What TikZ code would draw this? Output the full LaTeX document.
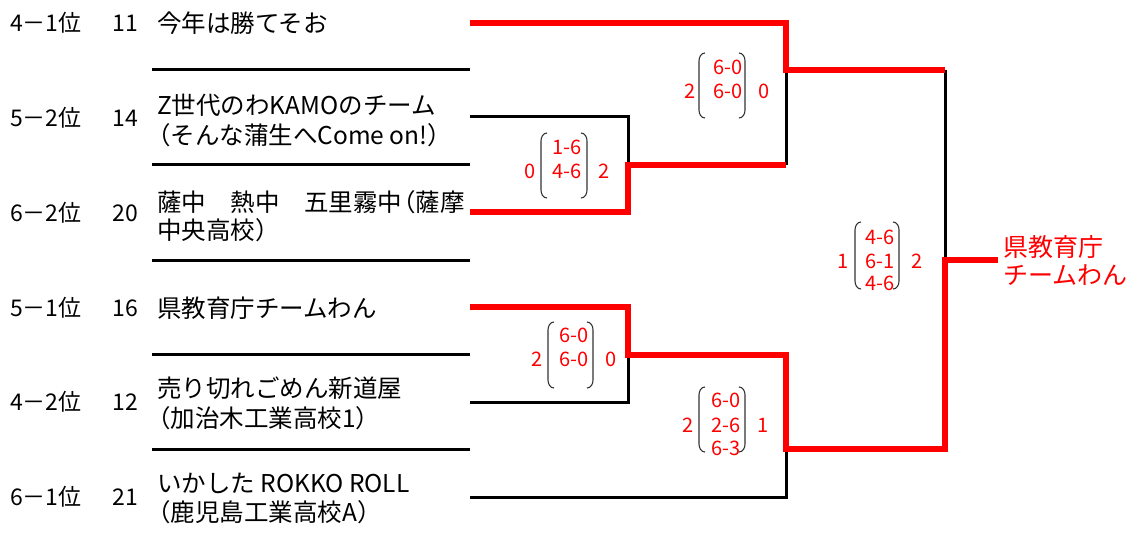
\documentclass[tikz,border=0pt]{standalone}
\usepackage{fontspec}
\setmainfont{Noto Sans CJK JP}
\definecolor{winred}{HTML}{FF0000}
\definecolor{pargray}{HTML}{333333}
\tikzset{
  sepline/.style={draw=black, line width=3pt},
  loseline/.style={draw=black, line width=3pt, line join=miter},
  winline/.style={draw=winred, line width=6pt, line join=miter},
  rank/.style={anchor=base west, inner sep=0pt, yshift=-8.7pt, font=\fontsize{23}{28}\selectfont},
  seed/.style={anchor=base east, inner sep=0pt, yshift=-8.7pt, font=\fontsize{23}{28}\selectfont},
  team/.style={anchor=base west, inner sep=0pt, yshift=-9.3pt, font=\fontsize{24.5}{30}\selectfont},
  winner/.style={anchor=base west, inner sep=0pt, yshift=-9.5pt, text=winred, font=\fontsize{25}{30}\selectfont},
  score/.style={anchor=base, inner sep=0pt, yshift=-7.4pt, text=winred, font=\fontsize{20}{24}\selectfont},
  paren/.style={draw=pargray, line width=1.1pt},
}
\newcommand{\lparen}[3]{% x, top, bottom
  \draw[paren] (#1+6,#2) to[out=180,in=90] (#1,#2+8) -- (#1,#3-8) to[out=-90,in=180] (#1+6,#3);}
\newcommand{\rparen}[3]{%
  \draw[paren] (#1-6,#2) to[out=0,in=90] (#1,#2+8) -- (#1,#3-8) to[out=-90,in=0] (#1-6,#3);}
\newcommand{\opn}{\kern-0.45em（}
\begin{document}
\begin{tikzpicture}[x=1pt,y=-1pt]
\useasboundingbox (0,0) rectangle (1139,540);

% ranks and seeds
\node[rank] (r1) at (10,23) {4－1位};
\node[rank] (r2) at (10,118) {5－2位};
\node[rank] (r3) at (10,213) {6－2位};
\node[rank] (r4) at (10,308) {5－1位};
\node[rank] (r5) at (10,402) {4－2位};
\node[rank] (r6) at (10,497) {6－1位};
\node[seed] (s1) at (138,23) {11};
\node[seed] (s2) at (138,118) {14};
\node[seed] (s3) at (138,213) {20};
\node[seed] (s4) at (138,308) {16};
\node[seed] (s5) at (138,402) {12};
\node[seed] (s6) at (138,497) {21};

% team names
\node[team] (n1) at (157,23) {今年は勝てそお};
\node[team] (n2a) at (157,105) {Z世代のわKAMOのチーム};
\node[team] (n2b) at (157,135) {\opn そんな蒲生へCome on!）};
\node[team] (n3a) at (157,202) {薩中　熱中　五里霧中\opn 薩摩};
\node[team] (n3b) at (157,230) {中央高校）};
\node[team] (n4) at (157,308) {県教育庁チームわん};
\node[team] (n5a) at (157,388) {売り切れごめん新道屋};
\node[team] (n5b) at (157,418) {\opn 加治木工業高校1）};
\node[team] (n6a) at (157,483) {いかした ROKKO ROLL};
\node[team] (n6b) at (157,512) {\opn 鹿児島工業高校A）};

% separators
\foreach \yy in {70,165,260,354,449}
  \draw[sepline] (152,\yy) -- (470,\yy);

% bracket coordinates
\coordinate (e1) at (470,23);
\coordinate (e2) at (470,117);
\coordinate (e3) at (470,212);
\coordinate (e4) at (470,307);
\coordinate (e5) at (470,402);
\coordinate (e6) at (470,497);
\coordinate (mA) at (628,165);
\coordinate (mB) at (628,355);
\coordinate (mT) at (786,70);
\coordinate (mL) at (786,449);
\coordinate (fT) at (945,70);
\coordinate (fL) at (945,449);
\coordinate (fm) at (945,260);
\coordinate (champ) at (998,260);

% losing lines
\draw[loseline] (e2) -| (mA);
\draw[loseline] (e5) -| (mB);
\draw[loseline] (e6) -| (mL);
\draw[loseline] (mT) -- (786,165);
\draw[loseline] (fT) -- (fm);

% winning lines
\draw[winline] (e1) -| (mT) -- (fT);
\draw[winline] (e3) -| (mA) -- (786,165);
\draw[winline] (e4) -| (mB) -- (786,355) -- (mL) -- (fL) -- (fm) -- (champ);

% champion
\node[winner] (w1) at (1003,247) {県教育庁};
\node[winner] (w2) at (1003,275) {チームわん};

% match A
\node[score] (a1) at (567,147) {1-6};
\node[score] (a2) at (567,171) {4-6};
\node[score] (al) at (530,171) {0};
\node[score] (ar) at (604,171) {2};
\lparen{541}{133}{198}\rparen{587}{133}{198}

% match top
\node[score] (t1) at (728,67) {6-0};
\node[score] (t2) at (728,91) {6-0};
\node[score] (tl) at (690,91) {2};
\node[score] (tr) at (764,91) {0};
\lparen{699}{53}{118}\rparen{745}{53}{118}

% match B
\node[score] (b1) at (574,335) {6-0};
\node[score] (b2) at (574,359) {6-0};
\node[score] (bl) at (537,359) {2};
\node[score] (br) at (611,359) {0};
\lparen{548}{322}{388}\rparen{593}{322}{388}

% match lower
\node[score] (l1) at (726,400) {6-0};
\node[score] (l2) at (726,425) {2-6};
\node[score] (l3) at (726,448) {6-3};
\node[score] (ll) at (688,425) {2};
\node[score] (lr) at (763,425) {1};
\lparen{699}{387}{452}\rparen{745}{387}{452}

% final
\node[score] (f1) at (880,237) {4-6};
\node[score] (f2) at (880,261) {6-1};
\node[score] (f3) at (880,283) {4-6};
\node[score] (fl) at (843,261) {1};
\node[score] (fr) at (917,261) {2};
\lparen{855}{222}{289}\rparen{899}{222}{289}
\end{tikzpicture}
\end{document}
